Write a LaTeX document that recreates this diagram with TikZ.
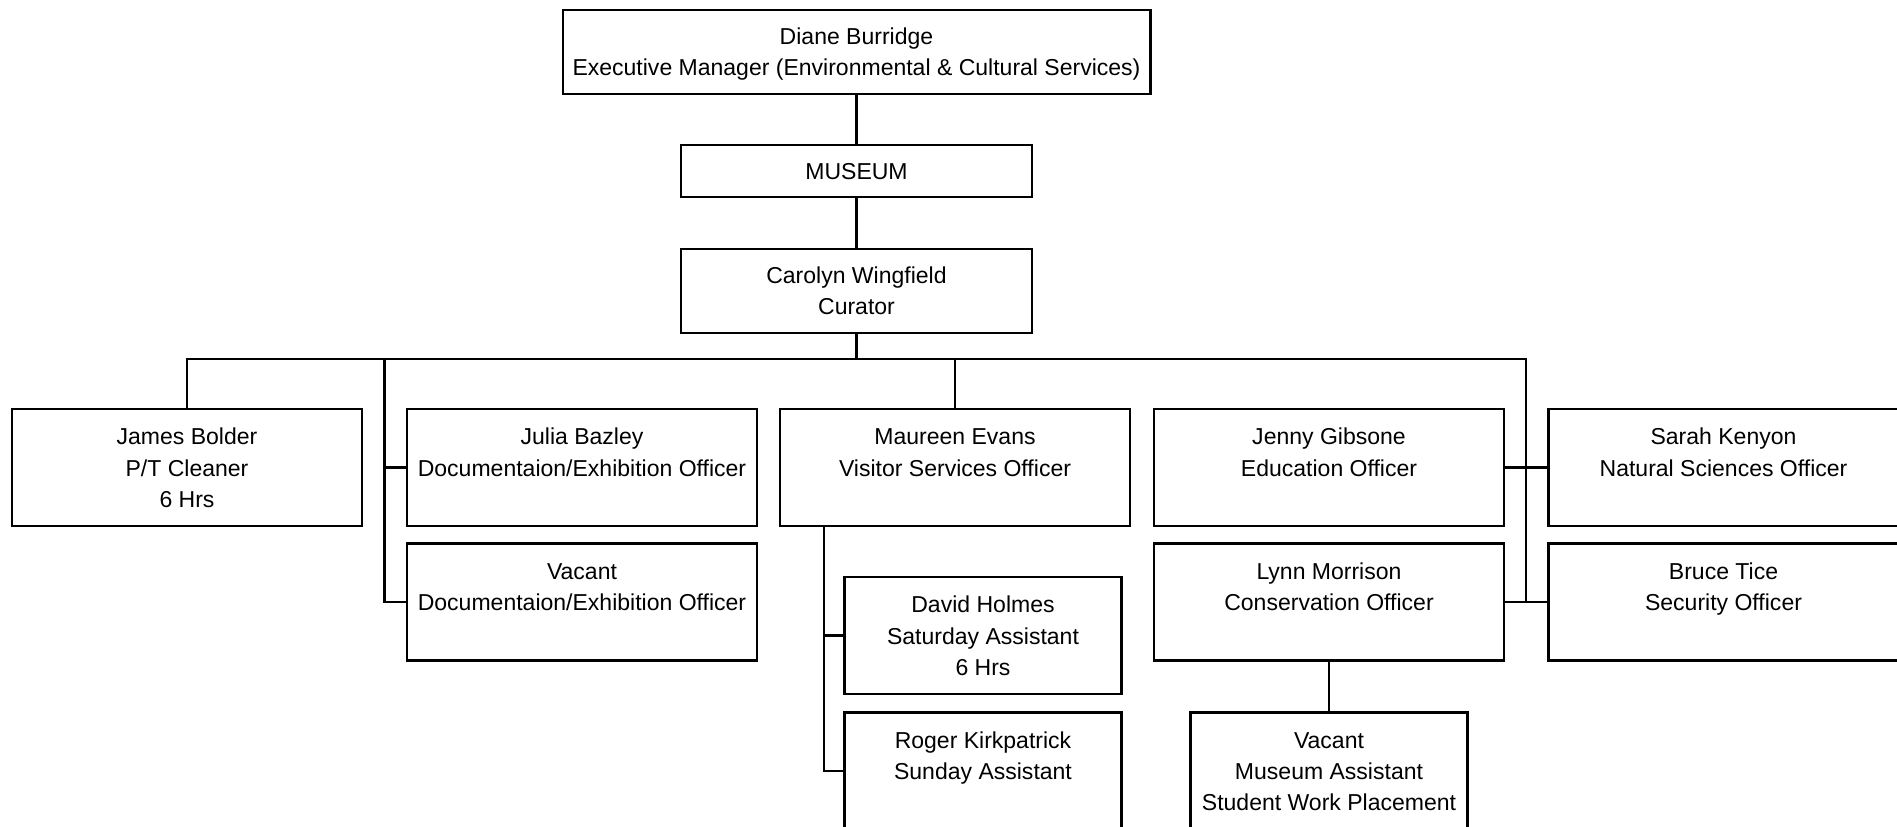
\documentclass[tikz,border=0pt]{standalone}
\usepackage{fontspec}
\setmainfont{Liberation Sans}
\usetikzlibrary{positioning}

\begin{document}
\begin{tikzpicture}[x=0.02cm,y=-0.02cm,line width=1.2pt,
    staff node/.style={draw,rectangle,align=center,inner sep=0pt,
      font=\fontsize{13.1}{17.9}\selectfont,text depth=5.4pt},
    post node/.style={staff node,minimum width=7cm,minimum height=2.34cm,text height=50.9pt},
    assistant node/.style={staff node,minimum width=5.54cm,minimum height=2.34cm,text height=50.9pt}]
  \useasboundingbox (0,0) rectangle (1897,827);
  \clip (0,0) rectangle (1897,827);
  % top of the chart
  \node[staff node,minimum width=11.76cm,minimum height=1.69cm,text height=32.3pt] (diane) at (856.5,52) {Diane Burridge\\Executive Manager (Environmental \& Cultural Services)};
  \node[staff node,minimum width=7.02cm,minimum height=1.04cm,text height=15.3pt] (museum) at (856.5,171) {MUSEUM};
  \node[staff node,minimum width=7.02cm,minimum height=1.68cm,text height=32.3pt] (curator) at (856.5,291) {Carolyn Wingfield\\Curator};
  % first row
  \node[post node] (cleaner) at (187,467.5) {James Bolder\\P/T Cleaner\\6 Hrs};
  \node[post node] (julia) at (582,467.5) {Julia Bazley\\Documentaion/Exhibition Officer\\};
  \node[post node] (visitor) at (955,467.5) {Maureen Evans\\Visitor Services Officer\\};
  \node[post node] (education) at (1329,467.5) {Jenny Gibsone\\Education Officer\\};
  \node[post node] (natural) at (1723.5,467.5) {Sarah Kenyon\\Natural Sciences Officer\\};
  % second row
  \node[post node] (vacdoc) at (582,602) {Vacant\\Documentaion/Exhibition Officer\\};
  \node[post node] (conservation) at (1329,602) {Lynn Morrison\\Conservation Officer\\};
  \node[post node] (security) at (1723.5,602) {Bruce Tice\\Security Officer\\};
  % assistants
  \node[assistant node] (saturday) at (983,635.5) {David Holmes\\Saturday Assistant\\6 Hrs};
  \node[assistant node] (sunday) at (983,771) {Roger Kirkpatrick\\Sunday Assistant\\};
  \node[assistant node] (student) at (1329,771) {Vacant\\Museum Assistant\\Student Work Placement};

  \coordinate (bus) at (0,359.3);
  \coordinate (lspine) at (384.5,359.3);
  \coordinate (rspine) at (1526,359.3);
  \coordinate (mspine) at (824,0);

  \draw (diane) -- (museum);
  \draw (museum) -- (curator);
  \draw (curator.south) -- (curator.south |- bus);
  \draw (cleaner.north) |- (rspine) -- (rspine |- security.west);
  \draw (julia.west) -- (julia.west -| lspine);
  \draw (lspine) |- (vacdoc.west);
  \draw (visitor.north) -- (visitor.north |- bus);
  \draw (visitor.south -| mspine) |- (sunday.west);
  \draw (saturday.west) -- (saturday.west -| mspine);
  \draw (education.east) -- (natural.west);
  \draw (conservation.east) -- (security.west);
  \draw (conservation) -- (student);
\end{tikzpicture}
\end{document}
